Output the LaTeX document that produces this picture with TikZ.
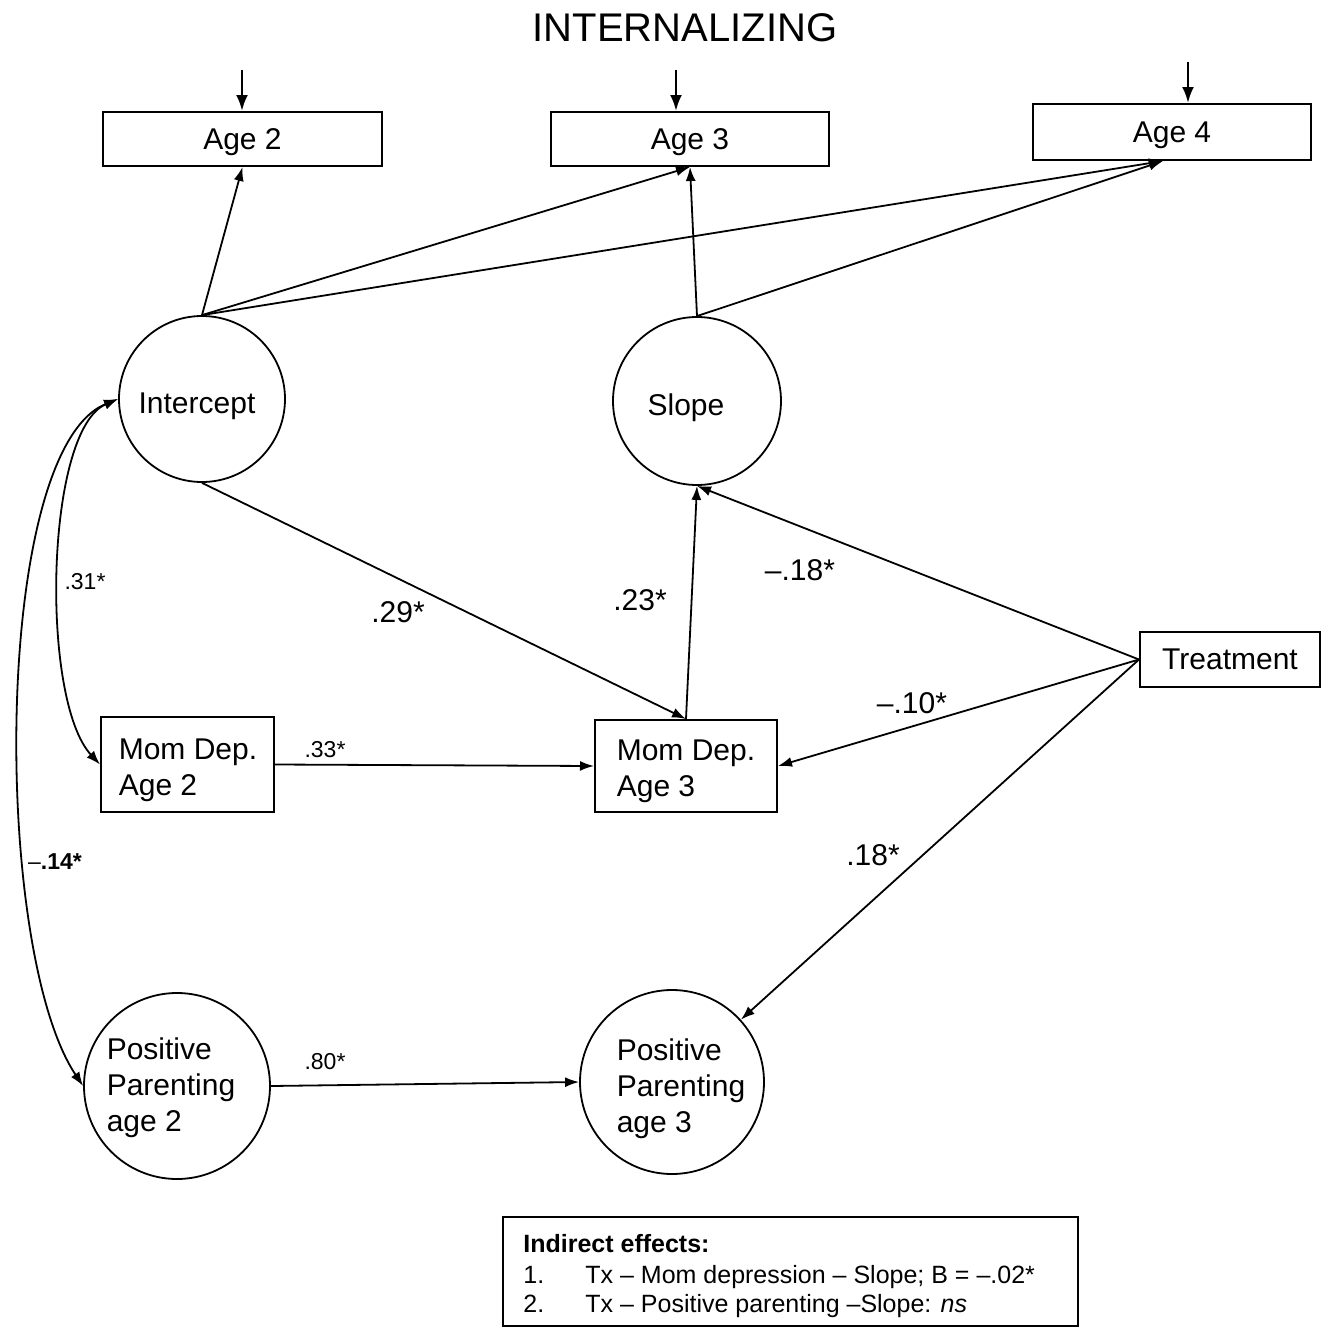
\documentclass[tikz,border=0pt]{standalone}
\usepackage{fontspec}
\setmainfont{Liberation Sans}
\usetikzlibrary{arrows.meta}
\begin{document}
\begin{tikzpicture}[x=0.5pt,y=-0.5pt,
  every node/.style={font=\fontsize{15}{18}\selectfont},
  box/.style={draw, line width=1pt, inner sep=0pt, text depth=0pt},
  latent/.style={draw, circle, line width=0.9pt, inner sep=0pt},
  txt/.style={align=left, inner sep=0pt},
  arr/.style={line width=0.9pt, -{Latex[length=7pt,width=5pt]}},
  bigarr/.style={line width=1.3pt, -{Latex[length=8pt,width=6pt]}},
  dbl/.style={line width=0.9pt, {Latex[length=7pt,width=5pt]}-{Latex[length=7pt,width=5pt]}},
  coef/.style={font=\fontsize{15}{18}\selectfont},
  scoef/.style={font=\fontsize{11.5}{14}\selectfont},
  note/.style={font=\fontsize{12.5}{15}\selectfont, anchor=base west, inner sep=0pt}]
\useasboundingbox (0,0) rectangle (1329,1328);

% title
\node[font=\fontsize{20}{24}\selectfont] (title) at (685,28) {INTERNALIZING};

% indicator boxes
\node[box, minimum width=139.5pt, minimum height=27pt] (age2) at (242.5,139) {Age 2};
\node[box, minimum width=139pt, minimum height=27pt] (age3) at (690,139) {Age 3};
\node[box, minimum width=139pt, minimum height=28pt] (age4) at (1172,132) {Age 4};

% latent factors
\node[latent, minimum size=83pt] (int) at (202,399) {};
\node[txt, text depth=0pt] (intt) at (197,403) {Intercept};
\node[latent, minimum size=84pt] (slope) at (697,401) {};
\node[txt, text depth=0pt] (slopet) at (686,405) {Slope};

% mom depression boxes
\node[box, minimum width=86.5pt, minimum height=47.5pt] (md2) at (187.5,764.5) {};
\node[txt] (md2t) at (188,770) {Mom Dep.\\Age 2};
\node[box, minimum width=91pt, minimum height=46pt] (md3) at (686,766) {};
\node[txt] (md3t) at (686,771) {Mom Dep.\\Age 3};

% treatment
\node[box, minimum width=90pt, minimum height=27.5pt] (treat) at (1230,659.5) {Treatment};

% positive parenting
\node[latent, minimum size=93pt] (pp2) at (177,1086) {};
\node[txt] (pp2t) at (171,1088) {Positive\\Parenting\\age 2};
\node[latent, minimum size=92pt] (pp3) at (672,1082) {};
\node[txt] (pp3t) at (681,1089) {Positive\\Parenting\\age 3};

% residual arrows into indicators
\coordinate (e2) at (242,70);
\coordinate (e3) at (676,70);
\coordinate (e4) at (1188,62);
\draw[bigarr] (e2) -- (e2 |- age2.north);
\draw[bigarr] (e3) -- (e3 |- age3.north);
\draw[bigarr] (e4) -- (e4 |- age4.north);

% loadings
\draw[arr] (int.north) -- (age2.south);
\draw[arr] (int.north) -- (age3.south);
\draw[arr] (int.north) -- ([xshift=-4.5pt]age4.south);
\draw[arr] (slope.north) -- (age3.south);
\draw[arr] (slope.north) -- ([xshift=-4.5pt]age4.south);

% structural paths
\draw[arr] (int.south) -- (md3.north);
\draw[arr] (md3.north) -- (slope.south);
\draw[arr] (treat.west) -- (slope.south);
\draw[arr] (treat.west) -- (md3.east);
\draw[arr] (treat.west) -- (pp3);
\draw[arr] (md2.east) -- (md3.west);
\draw[arr] (pp2.east) -- (pp3.west);

% covariances
\draw[dbl] (int.west) .. controls (45,430) and (40,700) .. (md2.west);
\draw[dbl] (int.west) .. controls (-8,450) and (-8,950) .. (pp2.west);

% coefficients
\node[scoef] (c31) at (85,582) {.31*};
\node[scoef] (c14) at (55,862) {–\textbf{.14*}};
\node[coef] (c29) at (398,612) {.29*};
\node[coef] (c23) at (640,600) {.23*};
\node[coef] (c18a) at (800,570) {–.18*};
\node[coef] (c10) at (912,703) {–.10*};
\node[coef] (c18b) at (873,855) {.18*};
\node[scoef] (c33) at (325,750) {.33*};
\node[scoef] (c80) at (325,1062) {.80*};

% indirect effects box
\draw[line width=1pt] (503,1217) rectangle (1078,1326);
\node[note] (n0) at (523,1252) {\textbf{Indirect effects:}};
\node[note] (n1) at (523,1283) {1.};
\node[note] (t1) at (585,1283) {Tx – Mom depression – Slope; B = –.02*};
\node[note] (n2) at (523,1312) {2.};
\node[note] (t2) at (585,1312) {Tx – Positive parenting –Slope: \textit{ns}};
\end{tikzpicture}
\end{document}
